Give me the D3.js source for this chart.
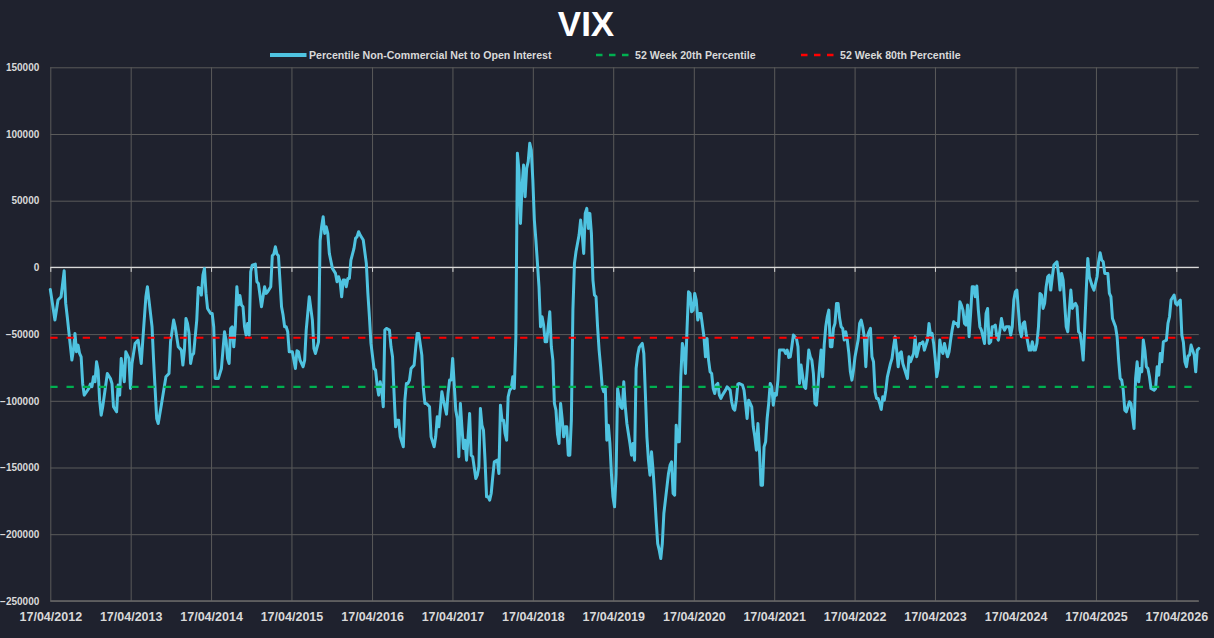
<!DOCTYPE html>
<html>
<head>
<meta charset="utf-8">
<script src="https://cdn.jsdelivr.net/npm/d3@7"></script>
<style>
  html, body { margin: 0; padding: 0; background: #1f222e; }
  svg { display: block; font-family: "Liberation Sans", Arial, sans-serif; }
</style>
</head>
<body>
<svg id="chart" width="1214" height="638"></svg>
<script>
// weekly COT reports, counted in weeks from the first report (17/04/2012)
const FIRST_REPORT = new Date(2012, 3, 17);

const reportWeek = [
  0, 3, 5, 7, 9, 10, 11, 14, 15, 16,
  17, 18, 19, 20, 21, 22, 25, 26, 27, 28,
  29, 30, 31, 32, 33, 34, 37, 39, 40, 41,
  43, 44, 45, 46, 48, 49, 51, 52, 53, 55,
  57, 59, 60, 62, 63, 64, 66, 67, 69, 70,
  72, 75, 77, 78, 80, 81, 83, 85, 86, 87,
  88, 89, 90, 91, 92, 93, 95, 96, 97, 98,
  99, 100, 101, 102, 104, 105, 106, 107, 109, 111,
  113, 114, 115, 116, 117, 118, 119, 120, 121, 122,
  123, 124, 125, 126, 127, 128, 129, 130, 131, 133,
  134, 135, 137, 139, 140, 141, 143, 144, 145, 146,
  147, 148, 150, 151, 152, 153, 154, 155, 157, 159,
  160, 161, 162, 164, 165, 166, 168, 170, 171, 172,
  174, 175, 176, 177, 178, 179, 180, 181, 183, 185,
  186, 187, 188, 189, 190, 191, 192, 193, 194, 195,
  197, 198, 199, 200, 201, 203, 205, 206, 207, 208,
  210, 211, 212, 213, 214, 215, 216, 217, 218, 220,
  221, 222, 223, 224, 225, 226, 227, 229, 230, 231,
  232, 233, 234, 236, 237, 238, 239, 241, 242, 243,
  244, 246, 247, 249, 250, 251, 252, 254, 255, 257,
  258, 259, 260, 261, 263, 264, 265, 266, 267, 268,
  269, 270, 271, 272, 273, 274, 276, 277, 278, 279,
  280, 281, 282, 283, 284, 285, 286, 287, 288, 290,
  291, 292, 293, 294, 295, 296, 297, 298, 299, 300,
  301, 302, 303, 304, 305, 306, 307, 308, 309, 310,
  311, 312, 313, 314, 315, 316, 317, 318, 319, 320,
  321, 322, 324, 325, 326, 327, 328, 329, 330, 331,
  332, 333, 334, 335, 336, 337, 338, 339, 340, 341,
  343, 344, 345, 346, 347, 348, 349, 350, 351, 352,
  353, 354, 355, 356, 357, 358, 359, 360, 361, 362,
  363, 364, 365, 366, 367, 368, 370, 371, 372, 373,
  374, 375, 376, 377, 378, 379, 380, 381, 382, 384,
  385, 386, 387, 388, 389, 390, 391, 392, 393, 394,
  395, 396, 397, 398, 399, 400, 401, 402, 403, 404,
  405, 406, 407, 408, 409, 410, 411, 412, 413, 414,
  415, 416, 417, 418, 419, 420, 421, 422, 424, 425,
  426, 427, 428, 429, 430, 431, 432, 433, 434, 435,
  436, 438, 439, 441, 442, 443, 444, 445, 446, 447,
  449, 450, 451, 452, 453, 454, 455, 456, 457, 458,
  459, 460, 461, 462, 463, 464, 465, 466, 467, 468,
  469, 470, 471, 472, 473, 474, 476, 477, 478, 479,
  480, 481, 482, 484, 485, 486, 487, 489, 490, 491,
  492, 493, 494, 495, 496, 497, 499, 500, 501, 502,
  503, 504, 505, 506, 507, 508, 509, 510, 511, 512,
  513, 514, 515, 516, 517, 518, 519, 520, 521, 522,
  524, 525, 526, 527, 528, 529, 530, 531, 532, 533,
  534, 535, 536, 537, 538, 539, 540, 541, 542, 543,
  545, 546, 547, 548, 549, 550, 551, 552, 553, 554,
  556, 557, 558, 559, 560, 561, 562, 564, 565, 566,
  567, 569, 570, 571, 572, 573, 574, 575, 576, 577,
  578, 579, 580, 581, 582, 583, 584, 585, 586, 587,
  588, 589, 590, 591, 592, 593, 594, 595, 596, 597,
  598, 599, 600, 601, 602, 603, 604, 605, 606, 607,
  608, 609, 610, 611, 612, 613, 614, 615, 616, 617,
  618, 619, 620, 622, 623, 624, 625, 626, 627, 628,
  629, 630, 631, 632, 633, 635, 636, 637, 638, 639,
  640, 641, 642, 643, 644, 645, 646, 647, 648, 649,
  650, 651, 653, 654, 655, 656, 657, 658, 659, 660,
  661, 662, 663, 664, 665, 666, 667, 668, 669, 670,
  671, 672, 673, 674, 675, 676, 677, 679, 680, 681,
  682, 683, 684, 686, 687, 688, 689, 691, 692, 693,
  694, 695, 696, 697, 698, 700, 701, 702, 703, 704,
  705, 706, 707, 708, 709, 710, 711, 712, 713, 714,
  716, 717, 718, 719, 720, 721, 722, 724, 725, 726,
  727, 729, 730, 731, 732, 733, 734, 735, 736, 737,
  738, 739, 740, 741, 742, 743, 744, 745
];

const netPosition = [
  -16500, -39500, -24500, -22000, -2500, -27000, -37000, -69500, -62000, -49500,
  -63250, -58250, -64500, -67000, -87000, -95750, -90750, -87500, -89500, -82000,
  -85750, -70750, -77000, -99500, -110750, -104500, -79500, -83250, -87000, -104500,
  -108250, -88250, -95750, -68250, -85750, -63250, -68250, -90750, -72000, -57000,
  -54500, -72000, -54500, -22000, -14500, -24500, -44500, -69500, -113250, -117000,
  -103250, -82000, -79500, -55750, -39500, -44500, -59500, -62000, -73250, -62000,
  -38250, -42000, -49500, -72000, -65750, -64500, -39500, -15000, -15750, -20750,
  -5750, -750, -19500, -30750, -34500, -34500, -44500, -83250, -83250, -75750,
  -48250, -54500, -68250, -72000, -45750, -44500, -59500, -44500, -14500, -28000,
  -21000, -28250, -29500, -44500, -50750, -42000, -50750, -3250, 1750, 2500,
  -10750, -12000, -29500, -14500, -19500, -18250, -14500, 8750, 10000, 15500,
  10000, 8750, -29500, -35750, -44500, -44500, -48250, -63250, -63250, -75750,
  -62500, -63250, -69500, -74500, -69500, -47000, -22000, -39500, -60750, -64500,
  -55750, 20000, 30500, 38000, 25500, 30500, 25500, 10500, -750, -4500,
  -10750, -7000, -10750, -22000, -9500, -9500, -14500, -8250, -8250, 5500,
  14250, 21750, 23000, 26750, 24250, 20500, 3000, -19500, -37000, -57000,
  -75750, -77000, -88250, -95750, -85750, -92000, -104500, -47000, -45750, -47000,
  -59500, -67000, -94500, -119500, -114500, -114500, -127000, -134500, -99500, -87000,
  -87000, -84500, -75750, -73250, -60750, -49500, -49500, -65750, -90750, -102000,
  -102000, -104500, -127000, -134500, -127000, -112000, -119500, -93250, -99500, -110000,
  -94500, -84500, -84500, -68250, -107000, -113250, -142000, -102000, -119500, -135750,
  -129500, -144500, -127000, -109500, -140750, -142000, -158250, -155750, -149500, -105750,
  -118250, -122000, -144500, -172000, -172000, -174500, -169500, -157000, -145750, -144500,
  -154500, -103250, -114500, -114500, -124500, -129500, -97000, -92000, -90750, -82000,
  -90750, -52000, 85500, 73000, 33000, 60500, 76750, 53000, 74250, 79250,
  93000, 88000, 65500, 35500, 20500, 3000, -14500, -44500, -37000, -43250,
  -55750, -55750, -33250, -59500, -69500, -102000, -107000, -125000, -132000, -102000,
  -113250, -127000, -119500, -119500, -140750, -140750, -114500, -32000, 3000, 11750,
  24250, 35500, 25500, 10500, 40500, 44250, 29250, 40500, 25500, -9500,
  -20750, -22000, -44500, -62000, -74500, -89500, -93250, -89500, -129500, -118250,
  -132000, -155000, -172000, -179500, -155000, -91000, -104500, -105750, -85750, -104500,
  -117000, -124500, -132000, -140750, -132000, -144500, -75750, -65750, -60000, -57000,
  -64500, -94500, -127000, -144500, -155750, -138250, -152000, -169500, -189500, -207000,
  -212000, -218250, -207000, -184500, -174500, -164500, -154500, -148250, -145750, -169500,
  -170750, -118250, -130750, -130750, -82000, -57000, -62000, -79500, -47000, -18250,
  -19500, -33250, -32000, -19500, -24500, -39500, -34500, -34500, -52000, -67000,
  -53250, -69500, -78250, -79500, -90750, -94500, -88250, -87000, -95750, -98250,
  -95750, -92000, -89500, -92000, -100750, -105750, -107000, -99500, -87500, -87000,
  -88250, -92000, -102000, -113250, -99500, -102000, -104500, -119500, -127000, -137000,
  -117000, -137000, -163250, -163250, -134500, -130750, -113250, -102000, -87000, -89500,
  -103250, -94500, -95750, -84500, -62000, -62000, -62000, -64500, -62000, -67500,
  -67000, -59500, -50750, -53250, -59500, -87000, -73250, -89500, -90750, -77000,
  -62000, -67000, -69500, -79500, -102000, -103250, -74500, -62000, -82000, -58250,
  -44500, -37000, -32000, -59500, -59500, -45750, -42000, -27000, -27000, -38000,
  -44500, -45750, -54500, -48250, -54500, -64500, -78250, -84500, -77000, -67000,
  -54500, -42000, -39500, -44500, -52000, -74500, -52000, -48250, -45750, -67000,
  -70750, -93250, -98250, -98250, -102000, -106500, -97000, -99500, -92000, -82000,
  -72000, -68250, -59500, -52000, -62000, -74500, -64500, -63250, -72000, -75750,
  -83250, -67000, -70750, -67500, -64500, -52000, -67000, -57000, -57000, -55750,
  -62000, -54500, -42000, -50750, -49500, -57000, -68250, -82000, -75750, -54500,
  -62000, -64500, -57000, -62000, -67000, -63250, -54500, -47000, -40750, -42000,
  -42000, -44500, -25750, -28250, -32000, -42000, -43250, -28250, -52000, -34500,
  -14500, -14500, -22000, -14000, -32000, -44500, -47000, -52000, -57000, -34500,
  -30750, -57000, -55750, -44500, -44500, -43250, -52000, -54500, -47000, -38250,
  -44500, -47000, -44500, -44500, -50750, -44500, -24500, -18250, -17000, -32000,
  -47000, -52000, -42000, -40750, -49500, -62000, -62000, -55750, -62000, -62000,
  -57000, -44500, -19500, -20750, -30750, -27000, -14500, -7000, -5750, -17000,
  -7000, 1750, 4250, -4500, -17000, -4500, -9500, -27000, -44500, -48250,
  -32000, -17000, -30750, -28250, -27000, -29500, -48250, -49500, -58250, -69500,
  -44500, -17000, 6750, -7000, -10750, -14500, -17000, -7000, 4250, 11000,
  5500, 4250, -4500, -4500, -19500, -22000, -38250, -44500, -52000, -69500,
  -83250, -84500, -92000, -107000, -108250, -100750, -102000, -112000, -120750, -83250,
  -70750, -85750, -75750, -78250, -54500, -62000, -74500, -75750, -82000, -90750,
  -92000, -90750, -74500, -80750, -64500, -70750, -55750, -54500, -42000, -37000,
  -24500, -20750, -27000, -28250, -25750, -24500, -50750, -56000, -70750, -74500,
  -66500, -65750, -58250, -62000, -65750, -78250, -62000, -60750
];

const pct20 = -89500;   // 52 week 20th percentile
const pct80 = -52750;   // 52 week 80th percentile

const yTickValues = [-250000, -200000, -150000, -100000, -50000, 0, 50000, 100000, 150000];
const tickYears = [2012, 2013, 2014, 2015, 2016, 2017, 2018, 2019, 2020, 2021, 2022, 2023, 2024, 2025, 2026];

const seriesNames = ["Percentile Non-Commercial Net to Open Interest", "52 Week 20th Percentile", "52 Week 80th Percentile"];
const COLORS = {line: "#4fc3e0", p20: "#00b050", p80: "#ff0000", grid: "#5a5a5a", axis: "#d9d9d9", text: "#d9d9d9"};

if (reportWeek.length !== netPosition.length) console.error("length mismatch", reportWeek.length, netPosition.length);

const data = reportWeek.map((w, i) => ({date: d3.timeDay.offset(FIRST_REPORT, 7 * w), value: netPosition[i]}));
const tickDates = tickYears.map(yr => new Date(yr, 3, 17));

const PLOT = {left: 50.3, right: 1198.8, top: 67.3, bottom: 600.9};

const x = d3.scaleTime()
    .domain([data[0].date, data[data.length - 1].date])
    .range([PLOT.left, PLOT.right]);

const y = d3.scaleLinear()
    .domain([-250000, 150000])
    .range([PLOT.bottom, PLOT.top]);

const svg = d3.select("#chart");

svg.append("rect").attr("width", 1214).attr("height", 638).attr("fill", "#1f222e");

// horizontal grid + value labels
const gY = svg.append("g")
    .attr("transform", `translate(${PLOT.left},0)`)
    .call(d3.axisLeft(y)
        .tickValues(yTickValues)
        .tickSize(-(PLOT.right - PLOT.left))
        .tickPadding(11)
        .tickFormat(d3.format("d")));
gY.select(".domain").remove();
gY.selectAll(".tick line").attr("stroke", COLORS.grid).attr("stroke-width", 1);
gY.selectAll(".tick text")
    .attr("fill", COLORS.text)
    .attr("font-size", 10)
    .attr("font-weight", "bold")
    .attr("font-family", "\"Liberation Sans\", Arial, sans-serif");

// vertical grid + date labels
const gX = svg.append("g")
    .attr("transform", `translate(0,${PLOT.bottom})`)
    .call(d3.axisBottom(x)
        .tickValues(tickDates)
        .tickSize(-(PLOT.bottom - PLOT.top))
        .tickPadding(11.5)
        .tickFormat(d3.timeFormat("%d/%m/%Y")));
gX.select(".domain").remove();
gX.selectAll(".tick line").attr("stroke", COLORS.grid).attr("stroke-width", 1);
gX.selectAll(".tick text")
    .attr("fill", COLORS.text)
    .attr("font-size", 12.5)
    .attr("font-weight", "bold")
    .attr("font-family", "\"Liberation Sans\", Arial, sans-serif");

// bottom border a touch lighter
svg.append("line")
    .attr("x1", PLOT.left).attr("x2", PLOT.right)
    .attr("y1", y(-250000)).attr("y2", y(-250000))
    .attr("stroke", "#6a6a6a").attr("stroke-width", 1.2);

// date axis crosses at zero
const gZero = svg.append("g")
    .attr("transform", `translate(0,${y(0)})`)
    .call(d3.axisBottom(x).tickValues(tickDates).tickSize(4.5).tickFormat(""));
gZero.select(".domain").attr("stroke", COLORS.axis).attr("stroke-width", 1.2)
    .attr("d", `M${PLOT.left},0H${PLOT.right}`);
gZero.selectAll(".tick line").attr("stroke", COLORS.axis);

// series
const line = d3.line()
    .x(d => x(d.date))
    .y(d => y(d.value));

svg.append("path")
    .datum(data)
    .attr("fill", "none")
    .attr("stroke", COLORS.line)
    .attr("stroke-width", 3)
    .attr("stroke-linejoin", "round")
    .attr("stroke-linecap", "round")
    .attr("d", line);

const span = x.domain();
[[pct20, COLORS.p20], [pct80, COLORS.p80]].forEach(([v, c]) => {
    svg.append("path")
        .datum(span.map(dt => ({date: dt, value: v})))
        .attr("fill", "none")
        .attr("stroke", c)
        .attr("stroke-width", 2.2)
        .attr("stroke-dasharray", "7.3,8.9")
        .attr("d", line);
});

// title
svg.append("text")
    .attr("x", 586).attr("y", 35.5)
    .attr("text-anchor", "middle")
    .attr("fill", "#ffffff")
    .attr("font-size", 35)
    .attr("font-weight", "bold")
    .text("VIX");

// legend
const legend = svg.append("g").attr("font-size", 10.6).attr("font-weight", "bold").attr("fill", COLORS.text);
const legendItems = [
    {x0: 270, x1: 306.5, tx: 309, color: COLORS.line, width: 4, dash: null},
    {x0: 596, x1: 632, tx: 635, color: COLORS.p20, width: 2.4, dash: "6.5,6.5"},
    {x0: 801, x1: 837, tx: 840, color: COLORS.p80, width: 2.4, dash: "6.5,6.5"}
];
legendItems.forEach((it, i) => {
    legend.append("line")
        .attr("x1", it.x0).attr("x2", it.x1)
        .attr("y1", 55).attr("y2", 55)
        .attr("stroke", it.color)
        .attr("stroke-width", it.width)
        .attr("stroke-dasharray", it.dash);
    legend.append("text")
        .attr("x", it.tx).attr("y", 58.8)
        .text(seriesNames[i]);
});
</script>
</body>
</html>
